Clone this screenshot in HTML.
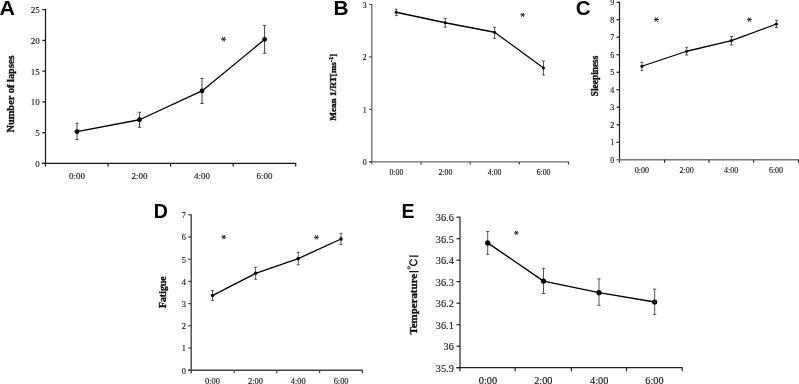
<!DOCTYPE html>
<html><head><meta charset="utf-8"><style>
html,body{margin:0;padding:0;background:#fff;}
body{width:799px;height:384px;overflow:hidden;}
svg{display:block;filter:grayscale(1);}
.s{font-family:"Liberation Serif",serif;fill:#111;stroke:#111;stroke-width:0.12px;}
.sb{font-family:"Liberation Serif",serif;font-weight:bold;fill:#111;stroke:#111;stroke-width:0.35px;}
.L{font-family:"Liberation Sans",sans-serif;font-weight:bold;fill:#000;}
</style></head><body>
<svg width="799" height="384" viewBox="0 0 799 384">
<g><line x1="45.5" y1="9" x2="45.5" y2="166.6" stroke="#111" stroke-width="1.2"/><line x1="42.3" y1="163.4" x2="296.2" y2="163.4" stroke="#111" stroke-width="1.2"/><line x1="42.3" y1="163.4" x2="45.5" y2="163.4" stroke="#111" stroke-width="1.2"/><text x="39.8" y="167" font-size="9.0" text-anchor="end" class="s">0</text><line x1="42.3" y1="132.64" x2="45.5" y2="132.64" stroke="#111" stroke-width="1.2"/><text x="39.8" y="136" font-size="9.0" text-anchor="end" class="s">5</text><line x1="42.3" y1="101.88" x2="45.5" y2="101.88" stroke="#111" stroke-width="1.2"/><text x="39.8" y="105" font-size="9.0" text-anchor="end" class="s">10</text><line x1="42.3" y1="71.12" x2="45.5" y2="71.12" stroke="#111" stroke-width="1.2"/><text x="39.8" y="75" font-size="9.0" text-anchor="end" class="s">15</text><line x1="42.3" y1="40.36" x2="45.5" y2="40.36" stroke="#111" stroke-width="1.2"/><text x="39.8" y="44" font-size="9.0" text-anchor="end" class="s">20</text><line x1="42.3" y1="9.6" x2="45.5" y2="9.6" stroke="#111" stroke-width="1.2"/><text x="39.8" y="13" font-size="9.0" text-anchor="end" class="s">25</text><line x1="108.1" y1="163.4" x2="108.1" y2="166.6" stroke="#111" stroke-width="1.2"/><line x1="170.6" y1="163.4" x2="170.6" y2="166.6" stroke="#111" stroke-width="1.2"/><line x1="233.2" y1="163.4" x2="233.2" y2="166.6" stroke="#111" stroke-width="1.2"/><line x1="295.7" y1="163.4" x2="295.7" y2="166.6" stroke="#111" stroke-width="1.2"/><text x="76.9" y="179" font-size="9.0" text-anchor="middle" class="s">0:00</text><text x="139.5" y="179" font-size="9.0" text-anchor="middle" class="s">2:00</text><text x="202" y="179" font-size="9.0" text-anchor="middle" class="s">4:00</text><text x="264.5" y="179" font-size="9.0" text-anchor="middle" class="s">6:00</text><path d="M77 123.25V139.5M75.4 123.25H78.6M75.4 139.5H78.6" stroke="#444" stroke-width="1.0" fill="none"/><path d="M139.5 112.25V127.25M137.9 112.25H141.1M137.9 127.25H141.1" stroke="#444" stroke-width="1.0" fill="none"/><path d="M202 78.4V103.5M200.4 78.4H203.6M200.4 103.5H203.6" stroke="#444" stroke-width="1.0" fill="none"/><path d="M264.6 25.4V53.25M263 25.4H266.2M263 53.25H266.2" stroke="#444" stroke-width="1.0" fill="none"/><polyline points="77,131.6 139.5,119.75 202,90.9 264.6,39.4" fill="none" stroke="#000" stroke-width="1.3" stroke-linejoin="round"/><circle cx="77" cy="131.6" r="2.4" fill="#000"/><circle cx="139.5" cy="119.75" r="2.4" fill="#000"/><circle cx="202" cy="90.9" r="2.4" fill="#000"/><circle cx="264.6" cy="39.4" r="2.4" fill="#000"/><path d="M221.1 39.2H226.1M222.35 37.04L224.85 41.37M224.85 37.04L222.35 41.37" stroke="#222" stroke-width="1.0" fill="none"/><text transform="translate(14.4,94) rotate(-90)" font-size="10.4" text-anchor="middle" class="sb">Number of lapses</text><text transform="translate(-0.6,14.6) scale(1.1,1)" font-size="19.5" class="L">A</text></g>
<g><line x1="371.8" y1="4" x2="371.8" y2="164.5" stroke="#888" stroke-width="1.6"/><line x1="369.2" y1="161.9" x2="569" y2="161.9" stroke="#6a6a6a" stroke-width="1.4"/><line x1="369.2" y1="161.9" x2="371.8" y2="161.9" stroke="#444" stroke-width="1.2"/><text x="366.6" y="165" font-size="7.8" text-anchor="end" class="s">0</text><line x1="369.2" y1="109.43" x2="371.8" y2="109.43" stroke="#444" stroke-width="1.2"/><text x="366.6" y="113" font-size="7.8" text-anchor="end" class="s">1</text><line x1="369.2" y1="56.96" x2="371.8" y2="56.96" stroke="#444" stroke-width="1.2"/><text x="366.6" y="60" font-size="7.8" text-anchor="end" class="s">2</text><line x1="369.2" y1="4.49" x2="371.8" y2="4.49" stroke="#444" stroke-width="1.2"/><text x="366.6" y="8" font-size="7.8" text-anchor="end" class="s">3</text><line x1="421" y1="161.9" x2="421" y2="164.5" stroke="#444" stroke-width="1.2"/><line x1="470.2" y1="161.9" x2="470.2" y2="164.5" stroke="#444" stroke-width="1.2"/><line x1="519.3" y1="161.9" x2="519.3" y2="164.5" stroke="#444" stroke-width="1.2"/><line x1="568.5" y1="161.9" x2="568.5" y2="164.5" stroke="#444" stroke-width="1.2"/><text x="396.4" y="175" font-size="7.8" text-anchor="middle" class="s">0:00</text><text x="445.4" y="175" font-size="7.8" text-anchor="middle" class="s">2:00</text><text x="494.6" y="175" font-size="7.8" text-anchor="middle" class="s">4:00</text><text x="543.6" y="175" font-size="7.8" text-anchor="middle" class="s">6:00</text><path d="M396.25 9.25V15.6M394.75 9.25H397.75M394.75 15.6H397.75" stroke="#333" stroke-width="0.8" fill="none"/><path d="M445.25 18.4V27.1M443.75 18.4H446.75M443.75 27.1H446.75" stroke="#333" stroke-width="0.8" fill="none"/><path d="M494.6 27.25V38.5M493.1 27.25H496.1M493.1 38.5H496.1" stroke="#333" stroke-width="0.8" fill="none"/><path d="M543.5 61V75M542 61H545M542 75H545" stroke="#333" stroke-width="0.8" fill="none"/><polyline points="396.25,12.25 445.25,22.75 494.6,32.25 543.5,68" fill="none" stroke="#000" stroke-width="1.3" stroke-linejoin="round"/><circle cx="396.25" cy="12.25" r="1.5" fill="#000"/><circle cx="445.25" cy="22.75" r="1.5" fill="#000"/><circle cx="494.6" cy="32.25" r="1.5" fill="#000"/><circle cx="543.5" cy="68" r="1.5" fill="#000"/><path d="M520.4 14.9H524.8M521.5 12.99L523.7 16.81M523.7 12.99L521.5 16.81" stroke="#222" stroke-width="1.0" fill="none"/><text transform="translate(336.2,87.2) rotate(-90)" font-size="9.2" text-anchor="middle" class="sb">Mean 1/RT[ms<tspan font-size="70%" dy="-3">-1</tspan><tspan dy="3">]</tspan></text><text transform="translate(333.4,15) scale(1.07,1)" font-size="19.5" class="L">B</text></g>
<g><line x1="619.5" y1="1.75" x2="619.5" y2="162.75" stroke="#1a1a1a" stroke-width="1.2"/><line x1="616.5" y1="159.75" x2="799" y2="159.75" stroke="#777" stroke-width="1.6"/><text x="614.3" y="163" font-size="8.0" text-anchor="end" class="s">0</text><line x1="616.5" y1="142.25" x2="619.5" y2="142.25" stroke="#1a1a1a" stroke-width="1.2"/><text x="614.3" y="145" font-size="8.0" text-anchor="end" class="s">1</text><line x1="616.5" y1="124.75" x2="619.5" y2="124.75" stroke="#1a1a1a" stroke-width="1.2"/><text x="614.3" y="128" font-size="8.0" text-anchor="end" class="s">2</text><line x1="616.5" y1="107.25" x2="619.5" y2="107.25" stroke="#1a1a1a" stroke-width="1.2"/><text x="614.3" y="110" font-size="8.0" text-anchor="end" class="s">3</text><line x1="616.5" y1="89.75" x2="619.5" y2="89.75" stroke="#1a1a1a" stroke-width="1.2"/><text x="614.3" y="93" font-size="8.0" text-anchor="end" class="s">4</text><line x1="616.5" y1="72.25" x2="619.5" y2="72.25" stroke="#1a1a1a" stroke-width="1.2"/><text x="614.3" y="75" font-size="8.0" text-anchor="end" class="s">5</text><line x1="616.5" y1="54.75" x2="619.5" y2="54.75" stroke="#1a1a1a" stroke-width="1.2"/><text x="614.3" y="58" font-size="8.0" text-anchor="end" class="s">6</text><line x1="616.5" y1="37.25" x2="619.5" y2="37.25" stroke="#1a1a1a" stroke-width="1.2"/><text x="614.3" y="40" font-size="8.0" text-anchor="end" class="s">7</text><line x1="616.5" y1="19.75" x2="619.5" y2="19.75" stroke="#1a1a1a" stroke-width="1.2"/><text x="614.3" y="23" font-size="8.0" text-anchor="end" class="s">8</text><line x1="616.5" y1="2.25" x2="619.5" y2="2.25" stroke="#1a1a1a" stroke-width="1.2"/><text x="614.3" y="5" font-size="8.0" text-anchor="end" class="s">9</text><line x1="664.6" y1="159.75" x2="664.6" y2="162.75" stroke="#333" stroke-width="1.2"/><line x1="709" y1="159.75" x2="709" y2="162.75" stroke="#333" stroke-width="1.2"/><line x1="753.6" y1="159.75" x2="753.6" y2="162.75" stroke="#333" stroke-width="1.2"/><line x1="798.5" y1="159.75" x2="798.5" y2="162.75" stroke="#333" stroke-width="1.2"/><text x="641.9" y="173" font-size="8.0" text-anchor="middle" class="s">0:00</text><text x="686.7" y="173" font-size="8.0" text-anchor="middle" class="s">2:00</text><text x="731.2" y="173" font-size="8.0" text-anchor="middle" class="s">4:00</text><text x="776" y="173" font-size="8.0" text-anchor="middle" class="s">6:00</text><path d="M641.9 62.3V70.4M640.4 62.3H643.4M640.4 70.4H643.4" stroke="#333" stroke-width="0.8" fill="none"/><path d="M686.7 47.3V55M685.2 47.3H688.2M685.2 55H688.2" stroke="#333" stroke-width="0.8" fill="none"/><path d="M731.5 36.5V45M730 36.5H733M730 45H733" stroke="#333" stroke-width="0.8" fill="none"/><path d="M776.4 20.25V27.5M774.9 20.25H777.9M774.9 27.5H777.9" stroke="#333" stroke-width="0.8" fill="none"/><polyline points="641.9,66.25 686.7,51.25 731.5,40.6 776.4,24" fill="none" stroke="#000" stroke-width="1.3" stroke-linejoin="round"/><circle cx="641.9" cy="66.25" r="1.6" fill="#000"/><circle cx="686.7" cy="51.25" r="1.6" fill="#000"/><circle cx="731.5" cy="40.6" r="1.6" fill="#000"/><circle cx="776.4" cy="24" r="1.6" fill="#000"/><path d="M653.9 19.5H658.9M655.15 17.34L657.65 21.66M657.65 17.34L655.15 21.66" stroke="#222" stroke-width="1.0" fill="none"/><path d="M746.9 19.6H751.9M748.15 17.44L750.65 21.77M750.65 17.44L748.15 21.77" stroke="#222" stroke-width="1.0" fill="none"/><text transform="translate(598,75.9) rotate(-90)" font-size="9.4" text-anchor="middle" class="sb">Sleepiness</text><text transform="translate(575.7,15) scale(1.06,1)" font-size="19.5" class="L">C</text></g>
<g><line x1="191.2" y1="214.25" x2="191.2" y2="373.2" stroke="#444" stroke-width="1.4"/><line x1="188.2" y1="370.2" x2="362.9" y2="370.2" stroke="#444" stroke-width="1.4"/><line x1="188.2" y1="370.2" x2="191.2" y2="370.2" stroke="#444" stroke-width="1.2"/><text x="186" y="374" font-size="8.4" text-anchor="end" class="s">0</text><line x1="188.2" y1="348" x2="191.2" y2="348" stroke="#444" stroke-width="1.2"/><text x="186" y="351" font-size="8.4" text-anchor="end" class="s">1</text><line x1="188.2" y1="325.8" x2="191.2" y2="325.8" stroke="#444" stroke-width="1.2"/><text x="186" y="329" font-size="8.4" text-anchor="end" class="s">2</text><line x1="188.2" y1="303.6" x2="191.2" y2="303.6" stroke="#444" stroke-width="1.2"/><text x="186" y="307" font-size="8.4" text-anchor="end" class="s">3</text><line x1="188.2" y1="281.4" x2="191.2" y2="281.4" stroke="#444" stroke-width="1.2"/><text x="186" y="285" font-size="8.4" text-anchor="end" class="s">4</text><line x1="188.2" y1="259.2" x2="191.2" y2="259.2" stroke="#444" stroke-width="1.2"/><text x="186" y="263" font-size="8.4" text-anchor="end" class="s">5</text><line x1="188.2" y1="237" x2="191.2" y2="237" stroke="#444" stroke-width="1.2"/><text x="186" y="240" font-size="8.4" text-anchor="end" class="s">6</text><line x1="188.2" y1="214.8" x2="191.2" y2="214.8" stroke="#444" stroke-width="1.2"/><text x="186" y="218" font-size="8.4" text-anchor="end" class="s">7</text><line x1="234.1" y1="370.2" x2="234.1" y2="373.2" stroke="#444" stroke-width="1.2"/><line x1="276.8" y1="370.2" x2="276.8" y2="373.2" stroke="#444" stroke-width="1.2"/><line x1="319.6" y1="370.2" x2="319.6" y2="373.2" stroke="#444" stroke-width="1.2"/><line x1="362.4" y1="370.2" x2="362.4" y2="373.2" stroke="#444" stroke-width="1.2"/><text x="212.5" y="384" font-size="8.4" text-anchor="middle" class="s">0:00</text><text x="255.4" y="384" font-size="8.4" text-anchor="middle" class="s">2:00</text><text x="298.3" y="384" font-size="8.4" text-anchor="middle" class="s">4:00</text><text x="341.1" y="384" font-size="8.4" text-anchor="middle" class="s">6:00</text><path d="M212.5 290.4V300.4M211 290.4H214M211 300.4H214" stroke="#333" stroke-width="0.8" fill="none"/><path d="M255.6 267.25V279.3M254.1 267.25H257.1M254.1 279.3H257.1" stroke="#333" stroke-width="0.8" fill="none"/><path d="M298.25 252.3V264.8M296.75 252.3H299.75M296.75 264.8H299.75" stroke="#333" stroke-width="0.8" fill="none"/><path d="M341 233.3V244.4M339.5 233.3H342.5M339.5 244.4H342.5" stroke="#333" stroke-width="0.8" fill="none"/><polyline points="212.5,295.6 255.6,273.3 298.25,258.6 341,239" fill="none" stroke="#000" stroke-width="1.35" stroke-linejoin="round"/><circle cx="212.5" cy="295.6" r="1.8" fill="#000"/><circle cx="255.6" cy="273.3" r="1.8" fill="#000"/><circle cx="298.25" cy="258.6" r="1.8" fill="#000"/><circle cx="341" cy="239" r="1.8" fill="#000"/><path d="M221.3 237H226.3M222.55 234.84L225.05 239.16M225.05 234.84L222.55 239.16" stroke="#222" stroke-width="1.0" fill="none"/><path d="M314 237.3H319M315.25 235.14L317.75 239.47M317.75 235.14L315.25 239.47" stroke="#222" stroke-width="1.0" fill="none"/><text transform="translate(166.2,292.2) rotate(-90)" font-size="9.9" text-anchor="middle" class="sb">Fatigue</text><text transform="translate(153.8,217.5) scale(1.0,1)" font-size="19.5" class="L">D</text></g>
<g><line x1="460" y1="216.7" x2="460" y2="371.2" stroke="#222" stroke-width="1.2"/><line x1="456.5" y1="367.7" x2="682.7" y2="367.7" stroke="#222" stroke-width="1.2"/><line x1="456.5" y1="367.7" x2="460" y2="367.7" stroke="#222" stroke-width="1.2"/><text x="453.8" y="372" font-size="10.3" text-anchor="end" class="s">35.9</text><line x1="456.5" y1="346.2" x2="460" y2="346.2" stroke="#222" stroke-width="1.2"/><text x="453.8" y="350" font-size="10.3" text-anchor="end" class="s">36</text><line x1="456.5" y1="324.7" x2="460" y2="324.7" stroke="#222" stroke-width="1.2"/><text x="453.8" y="329" font-size="10.3" text-anchor="end" class="s">36.1</text><line x1="456.5" y1="303.2" x2="460" y2="303.2" stroke="#222" stroke-width="1.2"/><text x="453.8" y="307" font-size="10.3" text-anchor="end" class="s">36.2</text><line x1="456.5" y1="281.7" x2="460" y2="281.7" stroke="#222" stroke-width="1.2"/><text x="453.8" y="286" font-size="10.3" text-anchor="end" class="s">36.3</text><line x1="456.5" y1="260.2" x2="460" y2="260.2" stroke="#222" stroke-width="1.2"/><text x="453.8" y="264" font-size="10.3" text-anchor="end" class="s">36.4</text><line x1="456.5" y1="238.7" x2="460" y2="238.7" stroke="#222" stroke-width="1.2"/><text x="453.8" y="243" font-size="10.3" text-anchor="end" class="s">36.5</text><line x1="456.5" y1="217.2" x2="460" y2="217.2" stroke="#222" stroke-width="1.2"/><text x="453.8" y="221" font-size="10.3" text-anchor="end" class="s">36.6</text><line x1="515.2" y1="367.7" x2="515.2" y2="371.2" stroke="#222" stroke-width="1.2"/><line x1="571.4" y1="367.7" x2="571.4" y2="371.2" stroke="#222" stroke-width="1.2"/><line x1="626.5" y1="367.7" x2="626.5" y2="371.2" stroke="#222" stroke-width="1.2"/><line x1="682.2" y1="367.7" x2="682.2" y2="371.2" stroke="#222" stroke-width="1.2"/><text x="487.9" y="384" font-size="10.3" text-anchor="middle" class="s">0:00</text><text x="543.3" y="384" font-size="10.3" text-anchor="middle" class="s">2:00</text><text x="599.2" y="384" font-size="10.3" text-anchor="middle" class="s">4:00</text><text x="654.4" y="384" font-size="10.3" text-anchor="middle" class="s">6:00</text><path d="M487.7 231.5V254.4M486.1 231.5H489.3M486.1 254.4H489.3" stroke="#444" stroke-width="0.9" fill="none"/><path d="M543.5 268.3V293.5M541.9 268.3H545.1M541.9 293.5H545.1" stroke="#444" stroke-width="0.9" fill="none"/><path d="M599 278.9V305.4M597.4 278.9H600.6M597.4 305.4H600.6" stroke="#444" stroke-width="0.9" fill="none"/><path d="M654.7 289.2V314.4M653.1 289.2H656.3M653.1 314.4H656.3" stroke="#444" stroke-width="0.9" fill="none"/><polyline points="487.7,242.9 543.5,281.1 599,292.7 654.7,302" fill="none" stroke="#000" stroke-width="1.35" stroke-linejoin="round"/><circle cx="487.7" cy="242.9" r="2.6" fill="#000"/><circle cx="543.5" cy="281.1" r="2.6" fill="#000"/><circle cx="599" cy="292.7" r="2.6" fill="#000"/><circle cx="654.7" cy="302" r="2.6" fill="#000"/><path d="M514.2 232.9H518.6M515.3 230.99L517.5 234.81M517.5 230.99L515.3 234.81" stroke="#222" stroke-width="1.0" fill="none"/><text transform="translate(417.4,274.0) rotate(-90)" font-size="10.9" text-anchor="end" class="sb">Temperature</text><path d="M409.2 256.2H418.6M409.2 271.7H418.6" stroke="#111" stroke-width="1.3" fill="none"/><path d="M414.61 259.62A3.5 3.0 0 1 1 411.99 259.62" stroke="#111" stroke-width="1.3" fill="none"/><circle cx="408.9" cy="267.7" r="1.25" stroke="#111" stroke-width="0.9" fill="none"/><text transform="translate(401.6,217.9) scale(1.0,1)" font-size="19.5" class="L">E</text></g>
</svg>
</body></html>
